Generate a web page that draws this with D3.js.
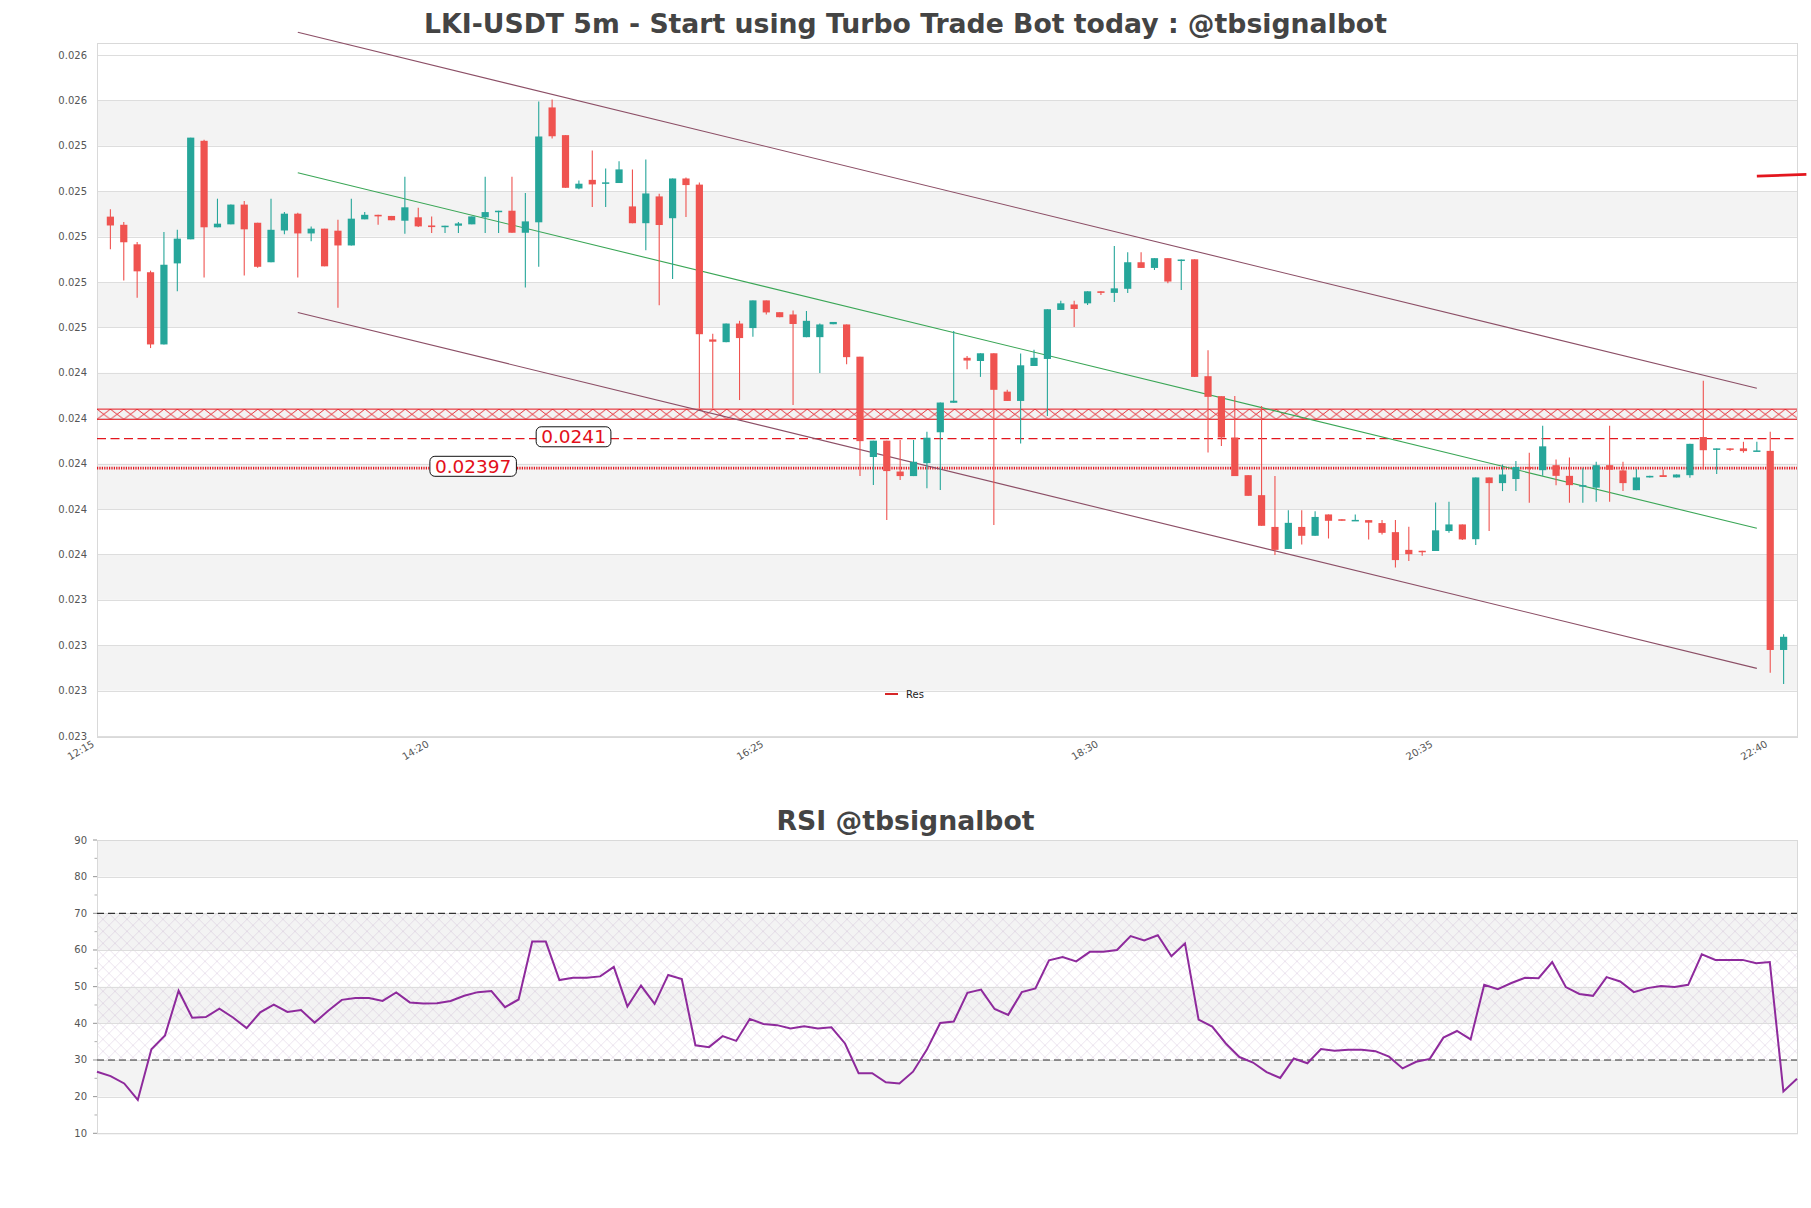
<!DOCTYPE html>
<html lang="en">
<head>
<meta charset="utf-8">
<title>LKI-USDT 5m</title>
<script src="https://d3js.org/d3.v7.min.js"></script>
<style>
  body { margin: 0px; padding: 0px; background: #fff; }
  svg { display: block; font-family: "DejaVu Sans", sans-serif; }
  .grid line { stroke: #dddddd; stroke-width: 1; }
  .frame { fill: none; stroke: #d9d9d9; stroke-width: 1; }
  .ylab, .xlab { font-size: 10px; fill: #555; }
  .title { font-size: 26.7px; font-weight: bold; fill: #444; }
</style>
</head>
<body>
<svg id="chart" width="1811" height="1208"></svg>
<script type="text/javascript">
// ---- candles (12:20 .. 22:45, 5m) ----
var opens = [0.025088,0.025052,0.024966,0.024843,0.024525,0.024882,0.024988,0.025422,0.025041,0.025054,
  0.025141,0.025061,0.024887,0.025027,0.025101,0.025014,0.025035,0.025026,0.024961,0.025076,
  0.025096,0.025091,0.025070,0.025085,0.025049,0.025044,0.025048,0.025054,0.025085,0.025108,
  0.025114,0.025017,0.025063,0.025569,0.025447,0.025212,0.025250,0.025234,0.025236,0.025133,
  0.025059,0.025177,0.025081,0.025256,0.025229,0.024547,0.024535,0.024617,0.024597,0.024719,
  0.024667,0.024657,0.024557,0.024557,0.024614,0.024613,0.024471,0.024029,0.024101,0.023965,
  0.023945,0.024002,0.024138,0.024268,0.024466,0.024452,0.024486,0.024317,0.024276,0.024430,
  0.024461,0.024677,0.024701,0.024706,0.024759,0.024752,0.024770,0.024887,0.024862,0.024905,
  0.024894,0.024900,0.024385,0.024297,0.024115,0.023949,0.023861,0.023721,0.023624,0.023721,
  0.023682,0.023776,0.023755,0.023748,0.023751,0.023738,0.023698,0.023620,0.023616,0.023615,
  0.023703,0.023732,0.023667,0.023939,0.023914,0.023932,0.023985,0.023971,0.023993,0.023946,
  0.023899,0.023894,0.023993,0.023970,0.023883,0.023939,0.023949,0.023939,0.023949,0.024117,
  0.024061,0.024067,0.024067,0.024055,0.024056,0.023179];
var highs = [0.025120,0.025064,0.024976,0.024850,0.025020,0.025030,0.025436,0.025427,0.025167,0.025141,
  0.025157,0.025061,0.025167,0.025108,0.025105,0.025044,0.025035,0.025074,0.025167,0.025108,
  0.025096,0.025091,0.025264,0.025127,0.025089,0.025048,0.025064,0.025089,0.025264,0.025114,
  0.025264,0.025192,0.025595,0.025604,0.025447,0.025247,0.025379,0.025300,0.025332,0.025296,
  0.025340,0.025189,0.025256,0.025260,0.025238,0.024572,0.024617,0.024629,0.024719,0.024719,
  0.024667,0.024675,0.024672,0.024617,0.024624,0.024613,0.024471,0.024101,0.024101,0.024104,
  0.024104,0.024140,0.024269,0.024584,0.024474,0.024486,0.024486,0.024325,0.024485,0.024502,
  0.024680,0.024717,0.024717,0.024759,0.024759,0.024959,0.024931,0.024931,0.024905,0.024905,
  0.024899,0.024900,0.024499,0.024297,0.024298,0.023949,0.024254,0.023945,0.023795,0.023795,
  0.023790,0.023776,0.023755,0.023776,0.023751,0.023751,0.023751,0.023722,0.023616,0.023829,
  0.023832,0.023732,0.023939,0.023939,0.023996,0.024012,0.024048,0.024167,0.024018,0.024027,
  0.023979,0.024008,0.024167,0.024008,0.023976,0.023946,0.023974,0.023952,0.024087,0.024365,
  0.024067,0.024067,0.024096,0.024096,0.024140,0.023248];
var lows = [0.024944,0.024807,0.024731,0.024509,0.024525,0.024759,0.024988,0.024820,0.025041,0.025054,
  0.024829,0.024863,0.024887,0.025010,0.024820,0.024979,0.024869,0.024687,0.024961,0.025076,
  0.025052,0.025072,0.025013,0.025042,0.025016,0.025016,0.025016,0.025054,0.025016,0.025016,
  0.025017,0.024776,0.024867,0.025432,0.025215,0.025209,0.025130,0.025130,0.025236,0.025059,
  0.024940,0.024698,0.024813,0.025086,0.024243,0.024243,0.024535,0.024280,0.024559,0.024657,
  0.024645,0.024258,0.024557,0.024399,0.024614,0.024438,0.023945,0.023906,0.023751,0.023928,
  0.023945,0.023891,0.023884,0.024268,0.024416,0.024382,0.023729,0.024276,0.024088,0.024430,
  0.024210,0.024677,0.024602,0.024699,0.024743,0.024712,0.024752,0.024862,0.024853,0.024794,
  0.024765,0.024382,0.024049,0.024078,0.023945,0.023858,0.023726,0.023597,0.023624,0.023644,
  0.023682,0.023670,0.023748,0.023748,0.023666,0.023688,0.023542,0.023571,0.023594,0.023615,
  0.023695,0.023663,0.023641,0.023703,0.023879,0.023879,0.023827,0.023946,0.023905,0.023827,
  0.023827,0.023832,0.023832,0.023879,0.023883,0.023939,0.023941,0.023939,0.023938,0.023974,
  0.023954,0.024056,0.024048,0.024055,0.023079,0.023029];
var closes = [0.025049,0.024975,0.024847,0.024525,0.024876,0.024991,0.025436,0.025041,0.025057,0.025141,
  0.025032,0.024867,0.025030,0.025101,0.025014,0.025035,0.024869,0.024961,0.025079,0.025096,
  0.025089,0.025072,0.025129,0.025045,0.025042,0.025048,0.025058,0.025089,0.025108,0.025114,
  0.025017,0.025067,0.025441,0.025442,0.025215,0.025233,0.025230,0.025239,0.025296,0.025059,
  0.025190,0.025051,0.025256,0.025227,0.024570,0.024537,0.024617,0.024553,0.024719,0.024666,
  0.024645,0.024615,0.024629,0.024613,0.024624,0.024469,0.024099,0.024101,0.023967,0.023945,
  0.024008,0.024114,0.024269,0.024277,0.024454,0.024486,0.024325,0.024276,0.024433,0.024466,
  0.024680,0.024706,0.024681,0.024759,0.024752,0.024772,0.024887,0.024862,0.024905,0.024802,
  0.024899,0.024382,0.024294,0.024115,0.023945,0.023858,0.023726,0.023620,0.023739,0.023682,
  0.023765,0.023748,0.023748,0.023752,0.023740,0.023695,0.023575,0.023601,0.023612,0.023706,
  0.023732,0.023666,0.023939,0.023914,0.023952,0.023985,0.023980,0.024076,0.023946,0.023905,
  0.023905,0.023993,0.023973,0.023914,0.023939,0.023946,0.023941,0.023952,0.024087,0.024059,
  0.024067,0.024062,0.024055,0.024058,0.023179,0.023237];

// ---- RSI (14) ----
var rsi = [26.8,25.6,23.6,19.1,32.9,36.7,48.9,41.5,41.7,44.0,41.6,38.7,43.0,45.1,43.1,43.6,40.2,43.4,46.4,46.9,
  46.9,46.1,48.4,45.7,45.4,45.5,46.1,47.5,48.5,48.8,44.4,46.5,62.3,62.3,51.8,52.4,52.4,52.8,55.4,44.6,
  50.3,45.3,53.2,52.1,34.0,33.5,36.5,35.2,41.2,39.8,39.5,38.6,39.2,38.6,38.9,34.5,26.4,26.4,23.9,23.6,
  26.8,32.7,40.1,40.5,48.3,49.2,43.9,42.3,48.5,49.5,57.2,58.1,56.9,59.5,59.5,60.0,63.8,62.6,64.0,58.3,
  61.8,41.0,39.1,34.5,30.8,29.3,26.7,25.1,30.4,29.1,33.0,32.5,32.8,32.8,32.4,30.9,27.7,29.5,30.3,36.1,
  37.9,35.6,50.5,49.3,51.0,52.4,52.3,56.7,49.9,48.0,47.5,52.6,51.4,48.5,49.6,50.2,49.9,50.5,58.8,57.3,
  57.3,57.3,56.4,56.7,21.4,24.9];

// ---- axes ----
var yTicks = [0.0228,0.0230,0.0232,0.0234,0.0236,0.0238,0.0240,0.0242,0.0244,0.0246,0.0248,0.0250,0.0252,0.0254,0.0256,0.0258];
var xTickIdx = [-1, 24, 49, 74, 99, 124];
var xTickLabels = ["12:15", "14:20", "16:25", "18:30", "20:35", "22:40"];
var rsiTicks = [10, 20, 30, 40, 50, 60, 70, 80, 90];
var rsiMinor = [15, 25, 35, 45, 55, 65, 75, 85];

// ---- channel (start / end candle index) ----
var channelIdx = [14, 123];
var upperLine = [0.025900, 0.024332];
var midLine = [0.025281, 0.023715];
var lowerLine = [0.024666, 0.023098];

// ---- levels ----
var resZone = [0.024195, 0.024240];
var resLevel = 0.02411, resText = "0.0241", resTextIdx = 34.6;
var supLevel = 0.02398, supText = "0.02397", supTextIdx = 27.1;
var markIdx = [123, 126.7];
var markPrice = [0.025266, 0.025274];

var width = 1811, height = 1208;
var left = 97, right = 1797;
var red = "#ef5350", green = "#26a69a", lvl = "#e3161e";

var svg = d3.select("#chart");
svg.append("rect").attr("width", width).attr("height", height).attr("fill", "#fff");
var defs = svg.append("defs");

// =================== main panel ===================
var x = d3.scaleLinear().domain([-1, 126]).range([left, right]);
var y = d3.scaleLinear().domain([0.0228, 0.0258]).range([736, 55]);
var mainTop = 43, mainBottom = 737;

var g1 = svg.append("g");

// alternating bands
yTicks.forEach(function(t, i) {
  if (i % 2 == 1 && i + 1 < yTicks.length) {
    g1.append("rect").attr("x", left).attr("width", right - left)
      .attr("y", y(yTicks[i + 1])).attr("height", y(t) - y(yTicks[i + 1]))
      .attr("fill", "#f3f3f3");
  }
});

g1.append("g").attr("class", "grid").selectAll("line").data(yTicks).enter().append("line")
  .attr("x1", left).attr("x2", right)
  .attr("y1", function(d) { return Math.round(y(d)) + 0.5; })
  .attr("y2", function(d) { return Math.round(y(d)) + 0.5; });

g1.append("rect").attr("class", "frame")
  .attr("x", left + 0.5).attr("y", mainTop + 0.5)
  .attr("width", right - left).attr("height", mainBottom - mainTop);

// y labels
g1.selectAll(".ylab").data(yTicks).enter().append("text")
  .attr("class", "ylab").attr("x", left - 10).attr("y", function(d) { return y(d); })
  .attr("dy", "0.35em").attr("text-anchor", "end")
  .text(function(d) { return d3.format(".3f")(d); });

// x labels
g1.selectAll(".xlab").data(xTickIdx).enter().append("text")
  .attr("class", "xlab").attr("text-anchor", "end")
  .attr("transform", function(d) { return "translate(" + (x(d) - 2) + ",746) rotate(-30)"; })
  .text(function(d, i) { return xTickLabels[i]; });

// resistance zone
var zTop = y(resZone[1]), zBot = y(resZone[0]);
var hp = defs.append("pattern").attr("id", "zoneHatch").attr("patternUnits", "userSpaceOnUse")
  .attr("x", left).attr("y", zTop).attr("width", 13.4).attr("height", zBot - zTop);
hp.append("path").attr("d", "M0,0L13.4," + (zBot - zTop) + "M0," + (zBot - zTop) + "L13.4,0")
  .attr("stroke", lvl).attr("stroke-width", 0.9).attr("fill", "none");
g1.append("rect").attr("x", left).attr("width", right - left).attr("y", zTop).attr("height", zBot - zTop)
  .attr("fill", "url(#zoneHatch)");
[zTop, zBot].forEach(function(v) {
  g1.append("line").attr("x1", left).attr("x2", right).attr("y1", v).attr("y2", v)
    .attr("stroke", lvl).attr("stroke-width", 1);
});

// resistance / support lines
g1.append("line").attr("x1", left).attr("x2", right).attr("y1", y(resLevel)).attr("y2", y(resLevel))
  .attr("stroke", lvl).attr("stroke-width", 1.3).attr("stroke-dasharray", "9,4.5");
g1.append("line").attr("x1", left).attr("x2", right).attr("y1", y(supLevel)).attr("y2", y(supLevel))
  .attr("stroke", lvl).attr("stroke-width", 2.6).attr("stroke-dasharray", "1.2,1.2");

// channel
var chan = d3.line().x(function(d) { return x(d[0]); }).y(function(d) { return y(d[1]); });
[[upperLine, "#8c4f66"], [midLine, "#3aa656"], [lowerLine, "#8c4f66"]].forEach(function(c) {
  g1.append("path").datum([[channelIdx[0], c[0][0]], [channelIdx[1], c[0][1]]])
    .attr("d", chan).attr("fill", "none").attr("stroke", c[1]).attr("stroke-width", 1.1);
});

// candles
var g2 = svg.append("g");
var candles = g2.selectAll("g").data(opens).enter().append("g");
candles.append("line")
  .attr("x1", function(d, i) { return x(i); }).attr("x2", function(d, i) { return x(i); })
  .attr("y1", function(d, i) { return y(highs[i]); }).attr("y2", function(d, i) { return y(lows[i]); })
  .attr("stroke", function(d, i) { return closes[i] >= d ? green : red; }).attr("stroke-width", 1.1);
candles.append("rect")
  .attr("x", function(d, i) { return x(i) - 3.6; }).attr("width", 7.2)
  .attr("y", function(d, i) { return y(Math.max(d, closes[i])); })
  .attr("height", function(d, i) { return Math.max(1.5, Math.abs(y(d) - y(closes[i]))); })
  .attr("fill", function(d, i) { return closes[i] >= d ? green : red; });

// level labels
function levelLabel(idx, val, txt) {
  var lg = svg.append("g").attr("transform", "translate(" + x(idx) + "," + (y(val) - 2) + ")");
  var box = lg.append("rect");
  var t = lg.append("text").attr("text-anchor", "middle").attr("dy", "0.36em")
    .attr("font-size", "18.5px").attr("fill", "#e3101a").text(txt);
  var bb = t.node().getBBox();
  box.attr("x", bb.x - 5).attr("y", bb.y + 0.5).attr("width", bb.width + 10).attr("height", bb.height - 1)
    .attr("rx", 5).attr("fill", "#fff").attr("stroke", "#111").attr("stroke-width", 1);
}
levelLabel(resTextIdx, resLevel, resText);
levelLabel(supTextIdx, supLevel, supText);

// marker at right
svg.append("path").datum([[markIdx[0], markPrice[0]], [markIdx[1], markPrice[1]]])
  .attr("d", chan).attr("stroke", "#e3161e").attr("stroke-width", 2.8).attr("fill", "none");

// legend
svg.append("line").attr("x1", 885).attr("x2", 898).attr("y1", 694).attr("y2", 694)
  .attr("stroke", "#d62728").attr("stroke-width", 2);
svg.append("text").attr("x", 906).attr("y", 697.5).attr("font-size", "10px").attr("fill", "#222").text("Res");

svg.append("text").attr("class", "title").attr("x", 905.5).attr("y", 32.6)
  .attr("text-anchor", "middle").text("LKI-USDT 5m - Start using Turbo Trade Bot today : @tbsignalbot");

// =================== RSI panel ===================
var rx = d3.scaleLinear().domain([0, rsi.length - 1]).range([left, right]);
var ry = d3.scaleLinear().domain([10, 90]).range([1133.3, 840]);
var g3 = svg.append("g");

[[20, 30], [40, 50], [60, 70], [80, 90]].forEach(function(b) {
  g3.append("rect").attr("x", left).attr("width", right - left)
    .attr("y", ry(b[1])).attr("height", ry(b[0]) - ry(b[1])).attr("fill", "#f3f3f3");
});

var rp = defs.append("pattern").attr("id", "rsiHatch").attr("patternUnits", "userSpaceOnUse")
  .attr("x", left).attr("y", ry(70)).attr("width", 12).attr("height", 12);
rp.append("path").attr("d", "M0,0L12,12M0,12L12,0").attr("stroke", "#b79ac4")
  .attr("stroke-width", 0.6).attr("stroke-opacity", 0.45).attr("fill", "none");
g3.append("rect").attr("x", left).attr("width", right - left)
  .attr("y", ry(70)).attr("height", ry(30) - ry(70)).attr("fill", "url(#rsiHatch)");

g3.append("g").attr("class", "grid").selectAll("line").data(rsiTicks).enter().append("line")
  .attr("x1", left).attr("x2", right)
  .attr("y1", function(d) { return Math.round(ry(d)) + 0.5; })
  .attr("y2", function(d) { return Math.round(ry(d)) + 0.5; });

g3.append("rect").attr("class", "frame").attr("x", left + 0.5).attr("y", 840.5)
  .attr("width", right - left).attr("height", 1133.3 - 840);

[30, 70].forEach(function(v) {
  g3.append("line").attr("x1", left).attr("x2", right).attr("y1", ry(v)).attr("y2", ry(v))
    .attr("stroke", "#333").attr("stroke-width", 1.2).attr("stroke-dasharray", "7,4");
});

// ticks + labels
g3.selectAll(".rmaj").data(rsiTicks).enter().append("line")
  .attr("x1", left - 4).attr("x2", left).attr("y1", function(d) { return ry(d); }).attr("y2", function(d) { return ry(d); })
  .attr("stroke", "#777").attr("stroke-width", 0.8);
g3.selectAll(".rmin").data(rsiMinor).enter().append("line")
  .attr("x1", left - 2.5).attr("x2", left).attr("y1", function(d) { return ry(d); }).attr("y2", function(d) { return ry(d); })
  .attr("stroke", "#777").attr("stroke-width", 0.6);
g3.selectAll(".ylab").data(rsiTicks).enter().append("text")
  .attr("class", "ylab").attr("x", left - 10).attr("y", function(d) { return ry(d); })
  .attr("dy", "0.35em").attr("text-anchor", "end").text(function(d) { return d; });

g3.append("path").datum(rsi)
  .attr("d", d3.line().x(function(d, i) { return rx(i); }).y(function(d) { return ry(d); }))
  .attr("fill", "none").attr("stroke", "#8e2a9c").attr("stroke-width", 2);

svg.append("text").attr("class", "title").attr("x", 905.5).attr("y", 830)
  .attr("text-anchor", "middle").text("RSI @tbsignalbot");
</script>
</body>
</html>
